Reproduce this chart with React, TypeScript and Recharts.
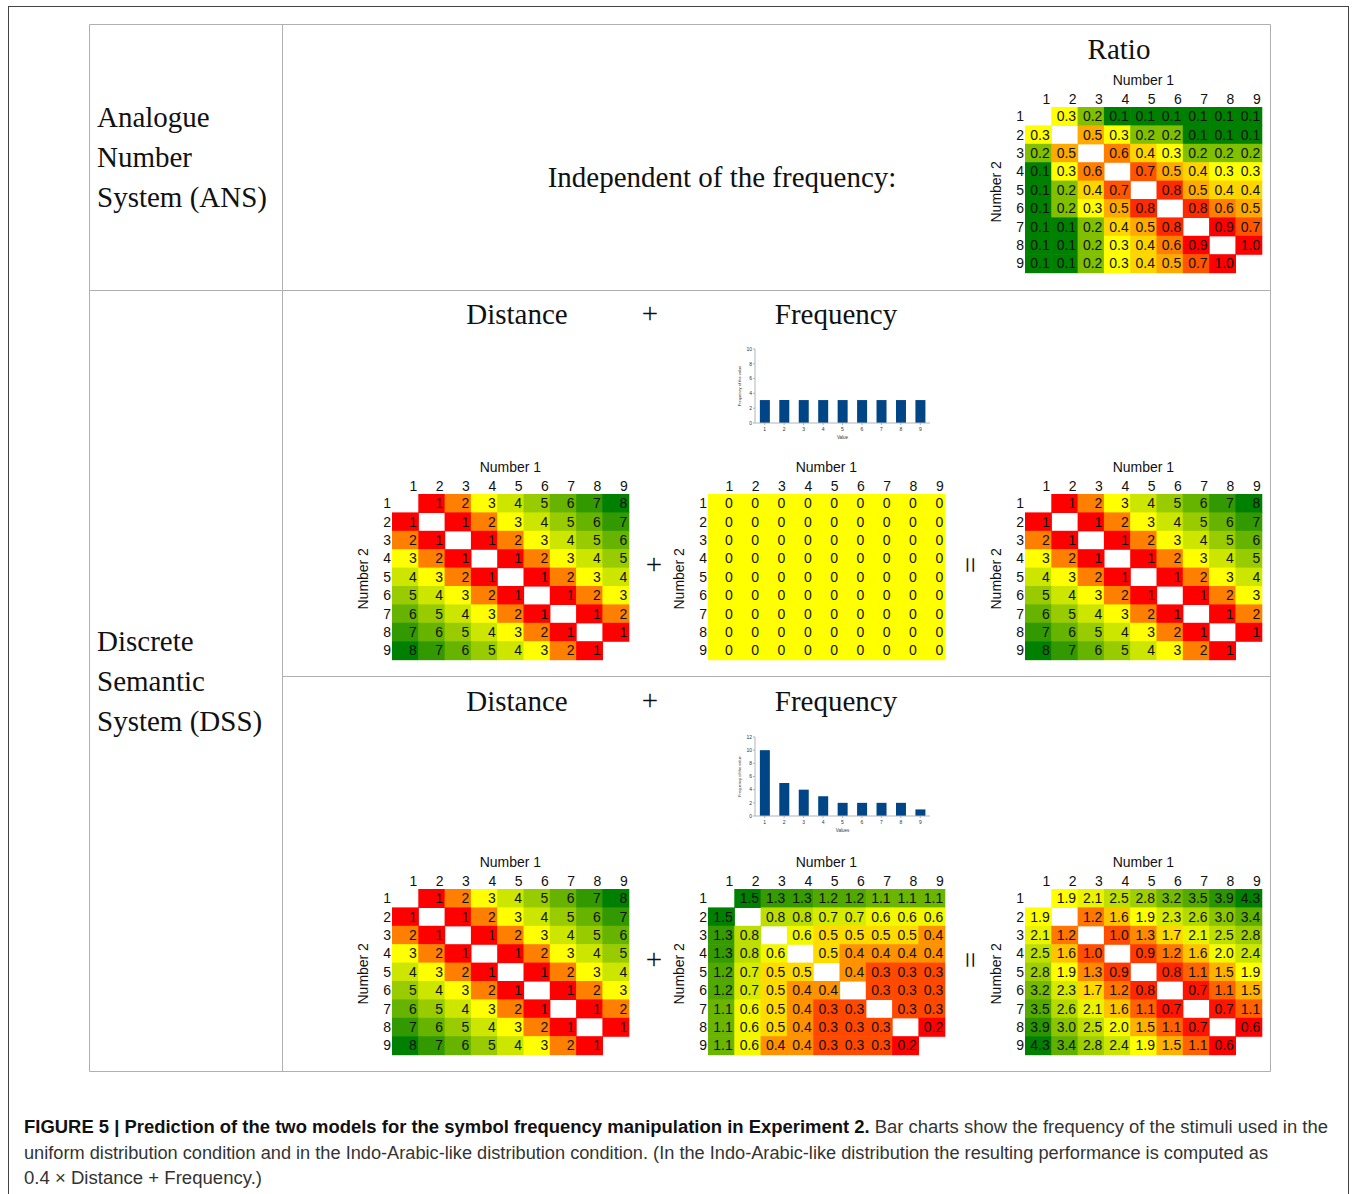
import React from 'react';
import { ScatterChart, Scatter, BarChart, Bar, XAxis, YAxis } from 'recharts';

// heatmap tick labels (Number 1 / Number 2)
const numberTicks = [1, 2, 3, 4, 5, 6, 7, 8, 9];

// ANS: ratio, rows = Number 2, columns = Number 1
const ratioRows: (number | null)[][] = [
  [null, 0.3, 0.2, 0.1, 0.1, 0.1, 0.1, 0.1, 0.1],
  [0.3, null, 0.5, 0.3, 0.2, 0.2, 0.1, 0.1, 0.1],
  [0.2, 0.5, null, 0.6, 0.4, 0.3, 0.2, 0.2, 0.2],
  [0.1, 0.3, 0.6, null, 0.7, 0.5, 0.4, 0.3, 0.3],
  [0.1, 0.2, 0.4, 0.7, null, 0.8, 0.5, 0.4, 0.4],
  [0.1, 0.2, 0.3, 0.5, 0.8, null, 0.8, 0.6, 0.5],
  [0.1, 0.1, 0.2, 0.4, 0.5, 0.8, null, 0.9, 0.7],
  [0.1, 0.1, 0.2, 0.3, 0.4, 0.6, 0.9, null, 1.0],
  [0.1, 0.1, 0.2, 0.3, 0.4, 0.5, 0.7, 1.0, null],
];

// DSS: distance
const distanceRows: (number | null)[][] = [
  [null, 1, 2, 3, 4, 5, 6, 7, 8],
  [1, null, 1, 2, 3, 4, 5, 6, 7],
  [2, 1, null, 1, 2, 3, 4, 5, 6],
  [3, 2, 1, null, 1, 2, 3, 4, 5],
  [4, 3, 2, 1, null, 1, 2, 3, 4],
  [5, 4, 3, 2, 1, null, 1, 2, 3],
  [6, 5, 4, 3, 2, 1, null, 1, 2],
  [7, 6, 5, 4, 3, 2, 1, null, 1],
  [8, 7, 6, 5, 4, 3, 2, 1, null],
];

// uniform distribution: frequency term
const uniformFreqRows: (number | null)[][] = [
  [0, 0, 0, 0, 0, 0, 0, 0, 0],
  [0, 0, 0, 0, 0, 0, 0, 0, 0],
  [0, 0, 0, 0, 0, 0, 0, 0, 0],
  [0, 0, 0, 0, 0, 0, 0, 0, 0],
  [0, 0, 0, 0, 0, 0, 0, 0, 0],
  [0, 0, 0, 0, 0, 0, 0, 0, 0],
  [0, 0, 0, 0, 0, 0, 0, 0, 0],
  [0, 0, 0, 0, 0, 0, 0, 0, 0],
  [0, 0, 0, 0, 0, 0, 0, 0, 0],
];

const uniformResultRows: (number | null)[][] = [
  [null, 1, 2, 3, 4, 5, 6, 7, 8],
  [1, null, 1, 2, 3, 4, 5, 6, 7],
  [2, 1, null, 1, 2, 3, 4, 5, 6],
  [3, 2, 1, null, 1, 2, 3, 4, 5],
  [4, 3, 2, 1, null, 1, 2, 3, 4],
  [5, 4, 3, 2, 1, null, 1, 2, 3],
  [6, 5, 4, 3, 2, 1, null, 1, 2],
  [7, 6, 5, 4, 3, 2, 1, null, 1],
  [8, 7, 6, 5, 4, 3, 2, 1, null],
];

// Indo-Arabic-like distribution: frequency term
const indoFreqRows: (number | null)[][] = [
  [null, 1.5, 1.3, 1.3, 1.2, 1.2, 1.1, 1.1, 1.1],
  [1.5, null, 0.8, 0.8, 0.7, 0.7, 0.6, 0.6, 0.6],
  [1.3, 0.8, null, 0.6, 0.5, 0.5, 0.5, 0.5, 0.4],
  [1.3, 0.8, 0.6, null, 0.5, 0.4, 0.4, 0.4, 0.4],
  [1.2, 0.7, 0.5, 0.5, null, 0.4, 0.3, 0.3, 0.3],
  [1.2, 0.7, 0.5, 0.4, 0.4, null, 0.3, 0.3, 0.3],
  [1.1, 0.6, 0.5, 0.4, 0.3, 0.3, null, 0.3, 0.3],
  [1.1, 0.6, 0.5, 0.4, 0.3, 0.3, 0.3, null, 0.2],
  [1.1, 0.6, 0.4, 0.4, 0.3, 0.3, 0.3, 0.2, null],
];

const indoResultRows: (number | null)[][] = [
  [null, 1.9, 2.1, 2.5, 2.8, 3.2, 3.5, 3.9, 4.3],
  [1.9, null, 1.2, 1.6, 1.9, 2.3, 2.6, 3.0, 3.4],
  [2.1, 1.2, null, 1.0, 1.3, 1.7, 2.1, 2.5, 2.8],
  [2.5, 1.6, 1.0, null, 0.9, 1.2, 1.6, 2.0, 2.4],
  [2.8, 1.9, 1.3, 0.9, null, 0.8, 1.1, 1.5, 1.9],
  [3.2, 2.3, 1.7, 1.2, 0.8, null, 0.7, 1.1, 1.5],
  [3.5, 2.6, 2.1, 1.6, 1.1, 0.7, null, 0.7, 1.1],
  [3.9, 3.0, 2.5, 2.0, 1.5, 1.1, 0.7, null, 0.6],
  [4.3, 3.4, 2.8, 2.4, 1.9, 1.5, 1.1, 0.6, null],
];

// bar charts: frequency of each value
const barValues = [1, 2, 3, 4, 5, 6, 7, 8, 9];
const uniformCounts = [3.1, 3.1, 3.1, 3.1, 3.1, 3.1, 3.1, 3.1, 3.1];
const indoCounts = [10, 5, 4, 3, 2, 2, 2, 2, 1];
const uniformYTicks = [0, 2, 4, 6, 8, 10];
const indoYTicks = [0, 2, 4, 6, 8, 10, 12];

type Stop = [number, string];
const RED = '#ff0000';
const YELLOW = '#ffff00';
const GREEN = '#008000';
const distanceStops: Stop[] = [[1, RED], [3, YELLOW], [8, GREEN]];
const ratioStops: Stop[] = [[0.1, GREEN], [0.3, YELLOW], [0.9, RED]];
const zeroStops: Stop[] = [[0, YELLOW]];
const indoFreqStops: Stop[] = [[0.2, RED], [0.55, YELLOW], [1.5, GREEN]];
const indoResultStops: Stop[] = [[0.6, RED], [1.9, YELLOW], [4.3, GREEN]];

const SANS = '"Liberation Sans", Arial, sans-serif';
const SERIF = '"Liberation Serif", "Times New Roman", serif';

function rgb(h: string) {
  const n = parseInt(h.slice(1), 16);
  return [(n >> 16) & 255, (n >> 8) & 255, n & 255];
}

function scaleColor(v: number, stops: Stop[]) {
  if (stops.length === 1) return stops[0][1];
  const sorted = [...stops].sort((a, b) => a[0] - b[0]);
  if (v <= sorted[0][0]) return sorted[0][1];
  if (v >= sorted[sorted.length - 1][0]) return sorted[sorted.length - 1][1];
  for (let i = 0; i < sorted.length - 1; i++) {
    const [a, ca] = sorted[i];
    const [b, cb] = sorted[i + 1];
    if (v >= a && v <= b) {
      const t = (v - a) / (b - a);
      const x = rgb(ca), y = rgb(cb);
      const m = x.map((c, k) => Math.round(c + (y[k] - c) * t));
      return `rgb(${m[0]},${m[1]},${m[2]})`;
    }
  }
  return YELLOW;
}

const CW = 26.3;
const CH = 18.4;
const GW = CW * 9;
const GH = CH * 9;
const AX_W = 40;
const AX_H = 40;
const PAD = 4;

function Heatmap({ rows, stops, digits, gx, gy }: { rows: (number | null)[][]; stops: Stop[]; digits: number; gx: number; gy: number }) {
  const points: { x: number; y: number; v: number }[] = [];
  rows.forEach((row, r) =>
    row.forEach((v, c) => {
      if (v !== null) points.push({ x: numberTicks[c], y: numberTicks[r], v });
    })
  );
  const txt = { fontFamily: SANS, fontSize: 14, fill: '#111' };
  return (
    <div style={{ position: 'absolute', left: gx - AX_W, top: gy - AX_H }}>
      <ScatterChart width={AX_W + GW + PAD} height={AX_H + GH + PAD} margin={{ top: 0, right: PAD, bottom: PAD, left: 0 }}>
        <XAxis
          type="number"
          dataKey="x"
          orientation="top"
          domain={[0.5, 9.5]}
          ticks={numberTicks}
          interval={0}
          height={AX_H}
          axisLine={false}
          tickLine={false}
          tick={(p: any) => (
            <text x={p.x + CW / 2 - 1} y={AX_H - 2.5} textAnchor="end" {...txt}>{p.payload.value}</text>
          )}
          label={{
            content: () => (
              <text x={AX_W + GW / 2} y={AX_H - 22} textAnchor="middle" {...txt}>Number 1</text>
            ),
          }}
        />
        <YAxis
          type="number"
          dataKey="y"
          domain={[0.5, 9.5]}
          reversed
          ticks={numberTicks}
          interval={0}
          width={AX_W}
          axisLine={false}
          tickLine={false}
          tick={(p: any) => (
            <text x={AX_W - 1} y={p.y + 5} textAnchor="end" {...txt}>{p.payload.value}</text>
          )}
          label={{
            content: () => {
              const cx = AX_W - 28.5;
              const cy = AX_H + GH / 2 + 2;
              return (
                <text x={cx} y={cy} transform={`rotate(-90 ${cx} ${cy})`} textAnchor="middle" dominantBaseline="central" {...txt}>Number 2</text>
              );
            },
          }}
        />
        <Scatter
          data={points}
          isAnimationActive={false}
          shape={(p: any) => (
            <g>
              <rect x={p.cx - CW / 2} y={p.cy - CH / 2} width={CW + 0.6} height={CH + 0.6} fill={scaleColor(p.payload.v, stops)} />
              <text x={p.cx + CW / 2 - 1.5} y={p.cy + 5} textAnchor="end" {...txt}>{p.payload.v.toFixed(digits)}</text>
            </g>
          )}
        />
      </ScatterChart>
    </div>
  );
}

function FreqBars({ counts, yTicks, xLabel, left, top, height, plotTop, plotBottom }: { counts: number[]; yTicks: number[]; xLabel: string; left: number; top: number; height: number; plotTop: number; plotBottom: number }) {
  const data = barValues.map((v, i) => ({ value: v, freq: counts[i] }));
  const small = { fontFamily: SANS, fontSize: 5, fill: '#333' };
  const axisH = height - plotBottom;
  return (
    <div style={{ position: 'absolute', left, top }}>
      <BarChart width={210} height={height} data={data} margin={{ top: plotTop, right: 0, bottom: 0, left: 0 }} barCategoryGap="25%">
        <XAxis
          dataKey="value"
          height={axisH}
          tick={small}
          tickSize={2}
          tickMargin={2}
          axisLine={{ stroke: '#b3b3b3' }}
          tickLine={{ stroke: '#b3b3b3' }}
          label={{
            content: () => (
              <text x={35 + 175 / 2} y={plotBottom + 15.5} textAnchor="middle" fontFamily={SANS} fontSize={4.5} fill="#333">{xLabel}</text>
            ),
          }}
        />
        <YAxis
          domain={[0, yTicks[yTicks.length - 1]]}
          ticks={yTicks}
          interval={0}
          width={35}
          tick={small}
          tickSize={2}
          tickMargin={1}
          axisLine={{ stroke: '#b3b3b3' }}
          tickLine={{ stroke: '#b3b3b3' }}
          label={{
            content: () => {
              const cx = 19;
              const cy = (plotTop + plotBottom) / 2;
              return (
                <text x={cx} y={cy} transform={`rotate(-90 ${cx} ${cy})`} textAnchor="middle" dominantBaseline="central" fontFamily={SANS} fontSize={4} fill="#333">Frequency of the value</text>
              );
            },
          }}
        />
        <Bar dataKey="freq" fill="#004586" isAnimationActive={false} />
      </BarChart>
    </div>
  );
}

export default function App() {
  const serif = { fontFamily: SERIF, fontSize: 29, fill: '#111' };
  const line = { stroke: '#b0b0b0', strokeWidth: 1 };
  return (
    <div style={{ position: 'absolute', left: 0, top: 0, width: 1357, height: 1194, overflow: 'hidden', background: '#fff' }}>
      <svg width={1357} height={1194} style={{ position: 'absolute', left: 0, top: 0 }}>
        <rect x={8.5} y={6.5} width={1340} height={1200} fill="none" stroke="#444" strokeWidth={1} />
        <line x1={89.5} y1={24.5} x2={1270.5} y2={24.5} {...line} />
        <line x1={89.5} y1={290.5} x2={1270.5} y2={290.5} {...line} />
        <line x1={282.5} y1={676.5} x2={1270.5} y2={676.5} {...line} />
        <line x1={89.5} y1={1071.5} x2={1270.5} y2={1071.5} {...line} />
        <line x1={89.5} y1={24.5} x2={89.5} y2={1071.5} {...line} />
        <line x1={282.5} y1={24.5} x2={282.5} y2={1071.5} {...line} />
        <line x1={1270.5} y1={24.5} x2={1270.5} y2={1071.5} {...line} />

        <text x={97} y={127} {...serif}>Analogue</text>
        <text x={97} y={167} {...serif}>Number</text>
        <text x={97} y={207} {...serif}>System (ANS)</text>
        <text x={97} y={651} {...serif}>Discrete</text>
        <text x={97} y={691} {...serif}>Semantic</text>
        <text x={97} y={731} {...serif}>System (DSS)</text>

        <text x={1119} y={59} textAnchor="middle" {...serif}>Ratio</text>
        <text x={722} y={187} textAnchor="middle" {...serif}>Independent of the frequency:</text>

        <text x={517} y={324} textAnchor="middle" {...serif}>Distance</text>
        <text x={650} y={323} textAnchor="middle" {...serif}>+</text>
        <text x={836} y={324} textAnchor="middle" {...serif}>Frequency</text>
        <text x={517} y={711} textAnchor="middle" {...serif}>Distance</text>
        <text x={650} y={710} textAnchor="middle" {...serif}>+</text>
        <text x={836} y={711} textAnchor="middle" {...serif}>Frequency</text>

        <text x={654} y={574} textAnchor="middle" {...serif}>+</text>
        <text x={970} y={565} textAnchor="middle" dominantBaseline="central" transform="rotate(90 970 565)" {...serif}>=</text>
        <text x={654} y={969} textAnchor="middle" {...serif}>+</text>
        <text x={970} y={960} textAnchor="middle" dominantBaseline="central" transform="rotate(90 970 960)" {...serif}>=</text>

        <text x={24} y={1133} fontFamily={SANS} fontSize={17.5} fill="#333" textLength={1304} lengthAdjust="spacingAndGlyphs">
          <tspan fontWeight="bold" fill="#111">FIGURE 5 | Prediction of the two models for the symbol frequency manipulation in Experiment 2.</tspan>
          <tspan> Bar charts show the frequency of the stimuli used in the</tspan>
        </text>
        <text x={24} y={1159} fontFamily={SANS} fontSize={17.5} fill="#333" textLength={1244} lengthAdjust="spacingAndGlyphs">
          uniform distribution condition and in the Indo-Arabic-like distribution condition. (In the Indo-Arabic-like distribution the resulting performance is computed as
        </text>
        <text x={24} y={1184} fontFamily={SANS} fontSize={17.5} fill="#333" textLength={238} lengthAdjust="spacingAndGlyphs">
          0.4 × Distance + Frequency.)
        </text>
      </svg>

      <Heatmap rows={ratioRows} stops={ratioStops} digits={1} gx={1025} gy={107.3} />

      <FreqBars counts={uniformCounts} yTicks={uniformYTicks} xLabel="Value" left={720} top={340} height={100} plotTop={9} plotBottom={83} />
      <Heatmap rows={distanceRows} stops={distanceStops} digits={0} gx={391.7} gy={494.3} />
      <Heatmap rows={uniformFreqRows} stops={zeroStops} digits={0} gx={708.3} gy={494.3} />
      <Heatmap rows={uniformResultRows} stops={distanceStops} digits={0} gx={1025} gy={494.3} />

      <FreqBars counts={indoCounts} yTicks={indoYTicks} xLabel="Values" left={720} top={730} height={104} plotTop={7} plotBottom={86} />
      <Heatmap rows={distanceRows} stops={distanceStops} digits={0} gx={391.7} gy={889.3} />
      <Heatmap rows={indoFreqRows} stops={indoFreqStops} digits={1} gx={708.3} gy={889.3} />
      <Heatmap rows={indoResultRows} stops={indoResultStops} digits={1} gx={1025} gy={889.3} />
    </div>
  );
}
